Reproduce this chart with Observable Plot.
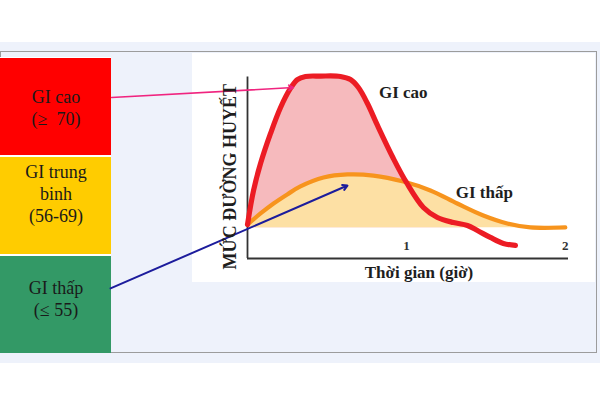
<!DOCTYPE html>
<html>
<head>
<meta charset="utf-8">
<script src="https://cdn.jsdelivr.net/npm/d3@7"></script>
<script src="https://cdn.jsdelivr.net/npm/@observablehq/plot@0.6"></script>
<style>
  body { margin: 0; background: #ffffff; }
  #wrap { position: relative; width: 600px; height: 400px; overflow: hidden; }
  .abs { position: absolute; }
  #band { left: 0; top: 42px; width: 600px; height: 321px; background: #eef2fb; }
  #frame { left: 0; top: 51px; width: 595px; height: 300px; border: 1.5px solid #9c9c9c; }
  #panel { left: 192px; top: 53px; width: 403px; height: 229px; background: #ffffff; }
  #legend { left: 0; top: 57px; }
  #chart { left: 0; top: 0; }
</style>
</head>
<body>
<div id="wrap">
  <div id="band" class="abs"></div>
  <div id="frame" class="abs"></div>
  <div id="panel" class="abs"></div>
  <div id="legend" class="abs"></div>
  <div id="chart" class="abs"></div>
</div>
<script>
// ---- Data ----
const categories = ["GI cao", "GI trung bình", "GI thấp"];
const categoryLabels = ["GI cao\n(≥  70)", "GI trung\nbinh\n(56-69)", "GI thấp\n(≤ 55)"];
const categoryColors = ["#ff0000", "#ffcc00", "#339966"];

// Blood glucose curves: [time (hours), level]
const giCaoCurve = [
  [0, 18.7], [0.038, 37.5], [0.082, 52.3], [0.145, 68.9], [0.208, 83.2], [0.27, 93.7],
  [0.314, 98.6], [0.365, 100.3], [0.46, 100.5], [0.585, 100.3], [0.648, 98.6], [0.698, 94.2],
  [0.755, 85.4], [0.818, 73.3], [0.918, 55.1], [1.0, 41.9], [1.107, 28.1], [1.195, 22.6],
  [1.296, 19.8], [1.384, 18.2], [1.447, 15.4], [1.528, 11.6], [1.61, 8.3], [1.686, 7.2]
];
const giThapCurve = [
  [0, 18.7], [0.082, 24.8], [0.164, 30.3], [0.25, 35.3], [0.333, 39.7], [0.478, 44.6],
  [0.629, 46.3], [0.792, 45.7], [0.981, 42.4], [1.151, 37.5], [1.32, 30.3], [1.484, 23.7],
  [1.635, 19.3], [1.78, 17.1], [2.0, 17.1]
];
const baseline = 17.0;
const xTickLabels = [1, 2];
const yTitle = "MỨC ĐƯỜNG HUYẾT";
const xTitle = "Thời gian (giờ)";
const curveLabels = [
  {x: 0.98, y: 91.5, text: "GI cao"},
  {x: 1.49, y: 36.4, text: "GI thấp"}
];
// Arrows from the category boxes to the curves
const arrows = [
  {x1: -0.855, y1: 88.7, x2: 0.289, y2: 94.2, color: "#f0247f", width: 1.6},
  {x1: -0.862, y1: -16.5, x2: 0.629, y2: 40.2, color: "#1c1c9c", width: 2}
];

const serif = "'Liberation Serif', 'Times New Roman', serif";

// ---- Legend boxes ----
const legendData = categories.map((c, i) => ({name: c, label: categoryLabels[i], color: categoryColors[i]}));
const labelShift = [0, -13, -7]; // vertical text placement inside each box
const legend = Plot.plot({
  width: 111,
  height: 296,
  margin: 0,
  style: {background: "#ffffff", fontFamily: serif},
  x: {axis: null},
  y: {axis: null, domain: categories, paddingInner: 0.021, paddingOuter: 0},
  color: {type: "identity"},
  marks: [
    Plot.cell(legendData, {y: "name", fill: "color"}),
    ...legendData.map((d, i) => Plot.text([d], {y: "name", text: "label", fill: "#1a1a1a", fontSize: 18, lineHeight: 1.22, dy: labelShift[i], fontFamily: serif}))
  ]
});
document.getElementById("legend").appendChild(legend);

// ---- Main chart ----
const red = giCaoCurve.map(([x, y]) => ({x, y}));
const orange = giThapCurve.map(([x, y]) => ({x, y}));

const chart = Plot.plot({
  width: 600,
  height: 400,
  marginLeft: 247,
  marginRight: 32,
  marginTop: 76.5,
  marginBottom: 142,
  style: {background: "transparent", overflow: "visible", fontFamily: serif},
  x: {domain: [0, 2.02], axis: null},
  y: {domain: [0, 100], axis: null},
  marks: [
    Plot.areaY(red, {x: "x", y1: baseline, y2: d => Math.max(d.y, baseline), fill: "#f6babd", curve: "catmull-rom"}),
    Plot.areaY(orange, {x: "x", y1: baseline, y2: "y", fill: "#fde0a4", curve: "catmull-rom"}),
    Plot.ruleX([0], {stroke: "#333", strokeWidth: 1.8}),
    Plot.ruleY([0], {stroke: "#333", strokeWidth: 1.8}),
    Plot.line(orange, {x: "x", y: "y", stroke: "#f7941d", strokeWidth: 4.2, curve: "catmull-rom"}),
    Plot.line(red, {x: "x", y: "y", stroke: "#ec1c24", strokeWidth: 5.2, curve: "catmull-rom", strokeLinecap: "round"}),
    Plot.arrow(arrows, {x1: "x1", y1: "y1", x2: "x2", y2: "y2", stroke: d => d.color, strokeWidth: d => d.width, headLength: 8}),
    Plot.text(xTickLabels, {x: d => d, frameAnchor: "bottom", dy: -9, text: d => String(d), fontWeight: "bold", fontSize: 13, fill: "#333", fontFamily: serif}),
    Plot.text([xTitle], {frameAnchor: "bottom", dx: 11, dy: 19, fontWeight: "bold", fontSize: 17, fill: "#1e1e1e", fontFamily: serif}),
    Plot.text([yTitle], {frameAnchor: "left", textAnchor: "middle", rotate: -90, dx: -17, dy: 9, fontWeight: "bold", fontSize: 18, fill: "#1e1e1e", fontFamily: serif}),
    Plot.text(curveLabels, {x: "x", y: "y", text: "text", fontWeight: "bold", fontSize: 17, fill: "#1e1e1e", fontFamily: serif})
  ]
});
document.getElementById("chart").appendChild(chart);
</script>
</body>
</html>
